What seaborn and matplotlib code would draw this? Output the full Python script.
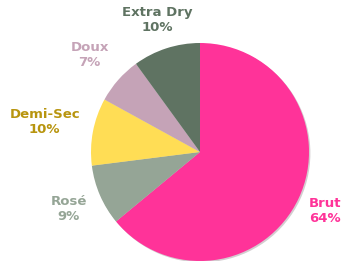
import numpy as np
import seaborn as sns
import matplotlib.pyplot as plt

# données
categories = ['Brut', 'Rosé', 'Demi-Sec', 'Doux', 'Extra Dry']
parts = [64, 9, 10, 7, 10]
slice_colors = ['#FF3399', '#95A596', '#FFDD55', '#C5A3B7', '#5F7362']
text_colors = ['#FF3399', '#95A596', '#B8950F', '#C5A3B7', '#5F7362']

sns.set_theme(style="white")
plt.rcParams['font.family'] = ['DejaVu Sans']
palette = sns.color_palette(slice_colors)

fig = plt.figure(figsize=(3.44, 2.61), dpi=100)
ax = fig.add_axes([0, 0, 1, 1])

cx, cy, r = 200, 109, 109
wedges, _ = ax.pie(parts, colors=palette, startangle=90, counterclock=False,
                   center=(cx, cy), radius=r, frame=True,
                   wedgeprops={'linewidth': 0},
                   shadow={'ox': 1.0, 'oy': -1.0, 'shade': 0.85, 'alpha': 0.2})
ax.set_xlim(0, 344)
ax.set_ylim(0, 261)
ax.set_aspect('equal')
ax.axis('off')

# position des étiquettes (distance relative au rayon)
dists = [1.27, 1.31, 1.45, 1.35, 1.27]
for w, lab, p, c, d in zip(wedges, categories, parts, text_colors, dists):
    ang = np.deg2rad((w.theta1 + w.theta2) / 2)
    x = cx + d * r * np.cos(ang)
    y = cy + d * r * np.sin(ang)
    ax.text(x, y, f"{lab}\n{p}%", ha='center', va='center', color=c,
            fontsize=9.5, fontweight='bold', linespacing=1.2)

fig.savefig('out.png', dpi=100)
